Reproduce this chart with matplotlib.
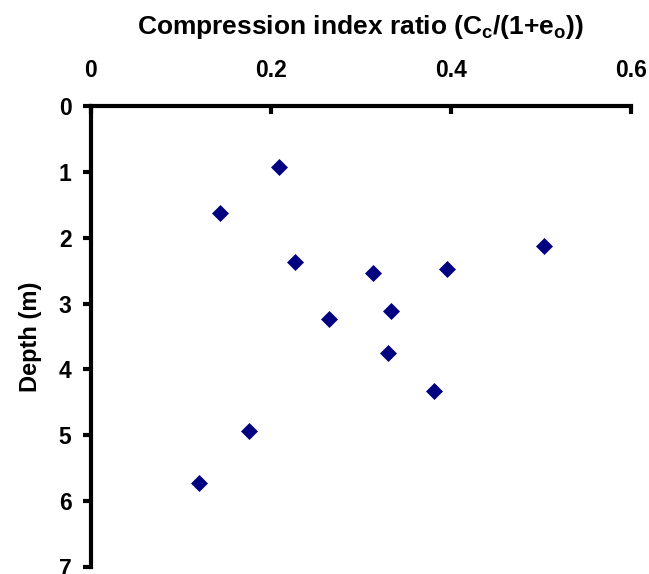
import matplotlib
matplotlib.use("Agg")
import matplotlib.pyplot as plt

plt.rcParams['font.family'] = ['Liberation Sans', 'DejaVu Sans']
plt.rcParams['font.weight'] = 'bold'
plt.rcParams['mathtext.fontset'] = 'custom'
plt.rcParams['mathtext.rm'] = 'Liberation Sans:bold'
plt.rcParams['mathtext.it'] = 'Liberation Sans:bold'
plt.rcParams['mathtext.bf'] = 'Liberation Sans:bold'

# Compression index ratio vs depth
cc_ratio = [0.209, 0.144, 0.503, 0.227, 0.314, 0.396, 0.334, 0.265, 0.330, 0.381, 0.176, 0.120]
depth_m = [0.92, 1.62, 2.12, 2.37, 2.53, 2.47, 3.11, 3.24, 3.75, 4.32, 4.94, 5.72]

x_ticks = [0, 0.2, 0.4, 0.6]
x_tick_labels = ['0', '0.2', '0.4', '0.6']
y_ticks = [0, 1, 2, 3, 4, 5, 6, 7]

fig = plt.figure(figsize=(6.49, 5.74), dpi=100)
ax = fig.add_axes([0.140, 0.0122, 0.832, 0.8031])

ax.plot(cc_ratio, depth_m, linestyle='none', marker='D', markersize=7.8,
        color='#000080', markeredgecolor='#000080', markeredgewidth=0.5)

ax.set_xlim(0, 0.6)
ax.set_ylim(7, 0)
ax.xaxis.tick_top()
ax.xaxis.set_label_position('top')
ax.set_xticks(x_ticks)
ax.set_xticklabels(x_tick_labels)
ax.set_yticks(y_ticks)

for side in ['right', 'bottom']:
    ax.spines[side].set_visible(False)
for side in ['left', 'top']:
    ax.spines[side].set_linewidth(3.0)
    ax.spines[side].set_color('black')

ax.tick_params(axis='x', direction='in', length=6, width=3.0, labelsize=16.5, pad=17)
ax.tick_params(axis='y', direction='out', length=6, width=3.0, labelsize=16.5, pad=8)

ax.set_xlabel('Compression index ratio (C$_c$/(1+e$_o$))', fontsize=19,
              fontweight='bold', labelpad=18)
ax.set_ylabel('Depth (m)', fontsize=17, fontweight='bold', labelpad=12)

fig.savefig('out.png', dpi=100)
